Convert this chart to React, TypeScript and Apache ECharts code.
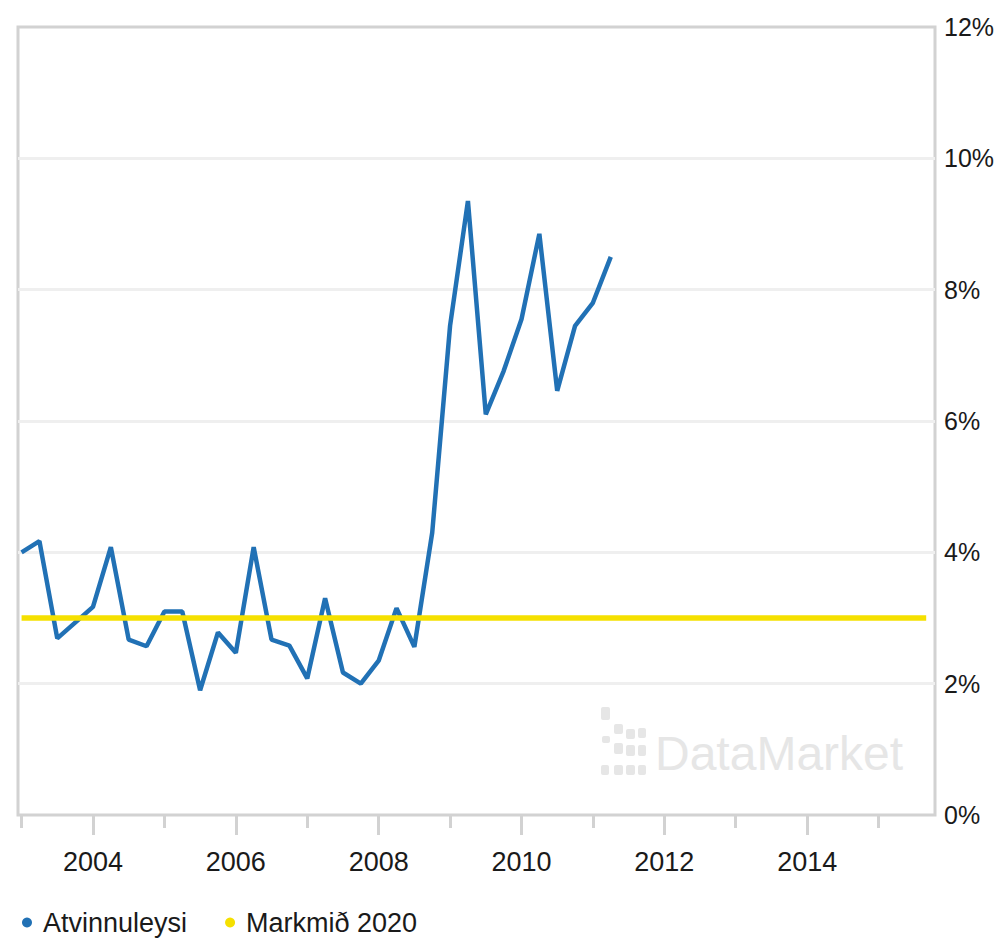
import React, { useEffect, useRef } from "react";
import * as echarts from "echarts";

const quarters = [
  "2003-01", "2003-04", "2003-07", "2003-10",
  "2004-01", "2004-04", "2004-07", "2004-10",
  "2005-01", "2005-04", "2005-07", "2005-10",
  "2006-01", "2006-04", "2006-07", "2006-10",
  "2007-01", "2007-04", "2007-07", "2007-10",
  "2008-01", "2008-04", "2008-07", "2008-10",
  "2009-01", "2009-04", "2009-07", "2009-10",
  "2010-01", "2010-04", "2010-07", "2010-10",
  "2011-01", "2011-04",
];
const unemployment = [
  4.0, 4.17, 2.69, 2.93,
  3.17, 4.08, 2.67, 2.57,
  3.1, 3.1, 1.9, 2.78,
  2.47, 4.08, 2.67, 2.58,
  2.08, 3.3, 2.17, 2.0,
  2.35, 3.15, 2.56, 4.3,
  7.45, 9.35, 6.1, 6.76,
  7.55, 8.85, 6.46, 7.45,
  7.8, 8.5,
];
const targetDates = ["2003-01", "2015-09"];
const targetValues = [3, 3];

const seriesNames = ["Atvinnuleysi", "Markmið 2020"];
const xLabelYears = [2004, 2006, 2008, 2010, 2012, 2014];
const xMinorYears = [2003, 2005, 2007, 2009, 2011, 2013, 2015];
const yMin = 0;
const yMax = 12;
const yStep = 2;
const xMin = 2002.95;
const xMax = 2015.79;

const toYear = (s: string) => {
  const [y, m] = s.split("-").map(Number);
  return y + (m - 1) / 12;
};

const FONT = '"Liberation Sans", Arial, sans-serif';
const BLUE = "#2171b5";
const YELLOW = "#f5e000";
const BORDER = "#d2d2d2";
const TEXT = "#1a1a1a";

export default function App() {
  const ref = useRef<HTMLDivElement>(null);
  useEffect(() => {
    if (!ref.current) return;
    const chart = echarts.init(ref.current, null, { renderer: "svg" });
    const wmColor = "#e6e6e6";
    const dots = [
      [601, 707, 9, 13],
      [614, 724, 9, 10],
      [626, 729, 9, 10],
      [638, 728, 8, 10],
      [602, 736, 8, 7],
      [614, 743, 9, 11],
      [626, 745, 9, 11],
      [638, 745, 8, 11],
      [601, 765, 8, 10],
      [614, 765, 9, 10],
      [626, 765, 9, 10],
      [638, 765, 8, 10],
    ];
    chart.setOption({
      animation: false,
      backgroundColor: "#ffffff",
      textStyle: { fontFamily: FONT },
      grid: {
        left: 18,
        right: 60,
        top: 27,
        bottom: 125,
        containLabel: false,
        outerBoundsMode: "none",
        show: true,
        borderColor: BORDER,
        borderWidth: 3,
        backgroundColor: "transparent",
      },
      legend: {
        left: 17,
        top: 904,
        itemWidth: 10,
        itemHeight: 10,
        itemGap: 38,
        icon: "circle",
        data: seriesNames,
        textStyle: {
          fontFamily: FONT,
          fontSize: 27,
          color: TEXT,
          padding: [0, 0, 0, 6],
        },
      },
      graphic: [
        ...dots.map(([x, y, w, h]) => ({
          type: "rect",
          silent: true,
          z: 0,
          shape: { x, y, width: w, height: h, r: 2 },
          style: { fill: wmColor },
        })),
        {
          type: "text",
          silent: true,
          z: 0,
          left: 655,
          top: 729,
          style: {
            text: "DataMarket",
            font: `48px ${FONT}`,
            fill: wmColor,
          },
        },
      ],
      xAxis: [
        {
          type: "value",
          min: xMin,
          max: xMax,
          axisLine: { show: false },
          splitLine: { show: false },
          axisTick: {
            show: true,
            customValues: xLabelYears,
            length: 20,
            lineStyle: { color: BORDER, width: 3 },
          },
          axisLabel: {
            customValues: xLabelYears,
            formatter: (v: number) => String(Math.round(v)),
            fontFamily: FONT,
            fontSize: 27,
            color: TEXT,
            margin: 33,
          },
        },
        {
          type: "value",
          min: xMin,
          max: xMax,
          position: "bottom",
          axisLine: { show: false },
          splitLine: { show: false },
          axisTick: {
            show: true,
            customValues: xMinorYears,
            length: 13,
            lineStyle: { color: BORDER, width: 3 },
          },
          axisLabel: { show: false },
        },
      ],
      yAxis: {
        type: "value",
        position: "right",
        min: yMin,
        max: yMax,
        interval: yStep,
        axisLine: { show: false },
        axisTick: { show: false },
        splitLine: {
          show: true,
          showMinLine: false,
          showMaxLine: false,
          lineStyle: { color: "#efefef", width: 3 },
        },
        axisLabel: {
          formatter: (v: number) => `${v}%`,
          fontFamily: FONT,
          fontSize: 25,
          color: TEXT,
          margin: 9,
        },
      },
      series: [
        {
          name: seriesNames[0],
          type: "line",
          xAxisIndex: 0,
          data: quarters.map((q, i) => [toYear(q), unemployment[i]]),
          showSymbol: false,
          symbol: "circle",
          lineStyle: { color: BLUE, width: 4.5 },
          itemStyle: { color: BLUE },
          z: 3,
        },
        {
          name: seriesNames[1],
          type: "line",
          xAxisIndex: 0,
          data: targetDates.map((d, i) => [toYear(d), targetValues[i]]),
          showSymbol: false,
          symbol: "circle",
          lineStyle: { color: YELLOW, width: 5.5 },
          itemStyle: { color: YELLOW },
          z: 4,
        },
      ],
    });
    return () => chart.dispose();
  }, []);
  return (
    <div
      ref={ref}
      style={{ position: "fixed", left: 0, top: 0, width: 995, height: 940 }}
    />
  );
}
